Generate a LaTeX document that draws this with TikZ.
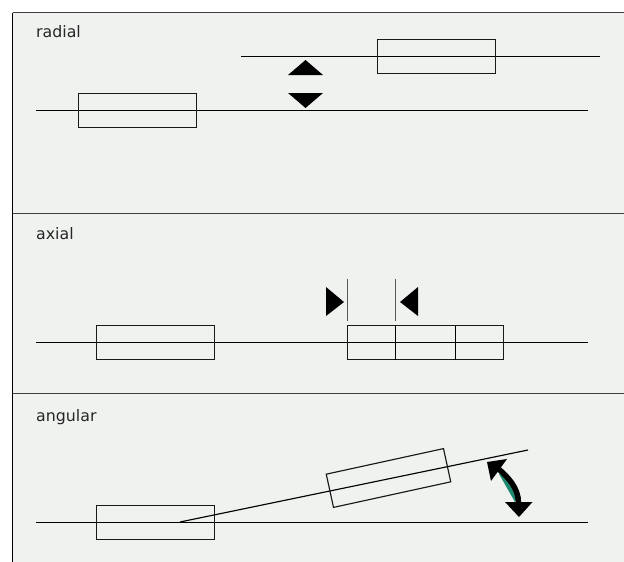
\documentclass[tikz,border=0pt]{standalone}
\usepackage{fontspec}
\setmainfont{DejaVu Sans}
\definecolor{panel}{HTML}{F0F2F0}
\definecolor{sliver}{HTML}{1F8A70}
\tikzset{
  box/.style={draw=black!90,line width=1.15pt,minimum height=34pt,inner sep=0pt,outer sep=0pt,anchor=center},
  wire/.style={draw=black,line width=1.15pt},
  rule/.style={draw=black!75,line width=1.3pt},
  tick/.style={draw=black!65,line width=1.15pt},
  title/.style={anchor=base west,inner sep=0pt,font=\fontsize{15.8pt}{18pt}\selectfont,text=black!85},
  solidtip/.style={fill=black,draw=none},
}
\begin{document}
\begin{tikzpicture}[x=1pt,y=-1pt]
\useasboundingbox (0,0) rectangle (624,562);
\fill[panel] (12,12) rectangle (624,562);
\coordinate (tl) at (12.5,12.5); \coordinate (tr) at (624,12.5);
\coordinate (bl) at (12.5,562);
\coordinate (s1l) at (12.5,213.5); \coordinate (s1r) at (624,213.5);
\coordinate (s2l) at (12.5,393.5); \coordinate (s2r) at (624,393.5);
\draw[rule] (tl) -- (tr);
\draw[draw=black,line width=1.15pt] (tl) -- (bl);
\draw[rule] (s1l) -- (s1r);
\draw[rule] (s2l) -- (s2r);
\node[title] (t1) at (36,37) {radial};
\node[title] (t2) at (36,239.5) {axial};
\node[title] (t3) at (36,421) {angular};
% radial
\coordinate (r1a) at (36,110.5); \coordinate (r1b) at (588,110.5);
\coordinate (r2a) at (241,56.5); \coordinate (r2b) at (600,56.5);
\draw[wire] (r1a) -- (r1b);
\draw[wire] (r2a) -- (r2b);
\node[box,minimum width=118pt] (rb1) at (137.5,110.5) {};
\node[box,minimum width=118pt] (rb2) at (436.5,56.5) {};
\fill[solidtip] (305.5,60) -- (323,75) -- (288,75) -- cycle;
\fill[solidtip] (305.5,108) -- (323,93) -- (288,93) -- cycle;
% axial
\coordinate (a1a) at (36,342.5); \coordinate (a1b) at (588,342.5);
\draw[wire] (a1a) -- (a1b);
\node[box,minimum width=156pt] (ab2) at (425.5,342.5) {};
\node[box,minimum width=118pt] (ab1) at (155.5,342.5) {};
\coordinate (d1a) at (395.5,325.5); \coordinate (d1b) at (395.5,359.5);
\coordinate (d2a) at (455.5,325.5); \coordinate (d2b) at (455.5,359.5);
\draw[wire] (d1a) -- (d1b);
\draw[wire] (d2a) -- (d2b);
\coordinate (k1a) at (347.5,279); \coordinate (k1b) at (347.5,321);
\coordinate (k2a) at (395.5,279); \coordinate (k2b) at (395.5,321);
\draw[tick] (k1a) -- (k1b);
\draw[tick] (k2a) -- (k2b);
\fill[solidtip] (344,302) -- (326,287) -- (326,316) -- cycle;
\fill[solidtip] (400,302) -- (418,287) -- (418,316) -- cycle;
% angular
\coordinate (g1a) at (36,522.5); \coordinate (g1b) at (588,522.5);
\coordinate (g2a) at (180,522); \coordinate (g2b) at (528,450);
\draw[wire] (g1a) -- (g1b);
\draw[wire] (g2a) -- (g2b);
\node[box,minimum width=118pt] (gb1) at (155.5,522.5) {};
\node[box,minimum width=120pt,rotate=12.3] (gb2) at (388.5,478) {};
% curved arrow
\fill[sliver] (499,474) -- (515,502) -- (519,495) -- (508,476) -- cycle;
\draw[black,line width=5.5pt] (498,468.5) .. controls (508,477) and (518.5,488) .. (518.5,503);
\fill[solidtip] (487,462) -- (507,459) -- (491,481) -- cycle;
\fill[solidtip] (519,517) -- (505,502) -- (532.5,502) -- cycle;
\end{tikzpicture}
\end{document}
